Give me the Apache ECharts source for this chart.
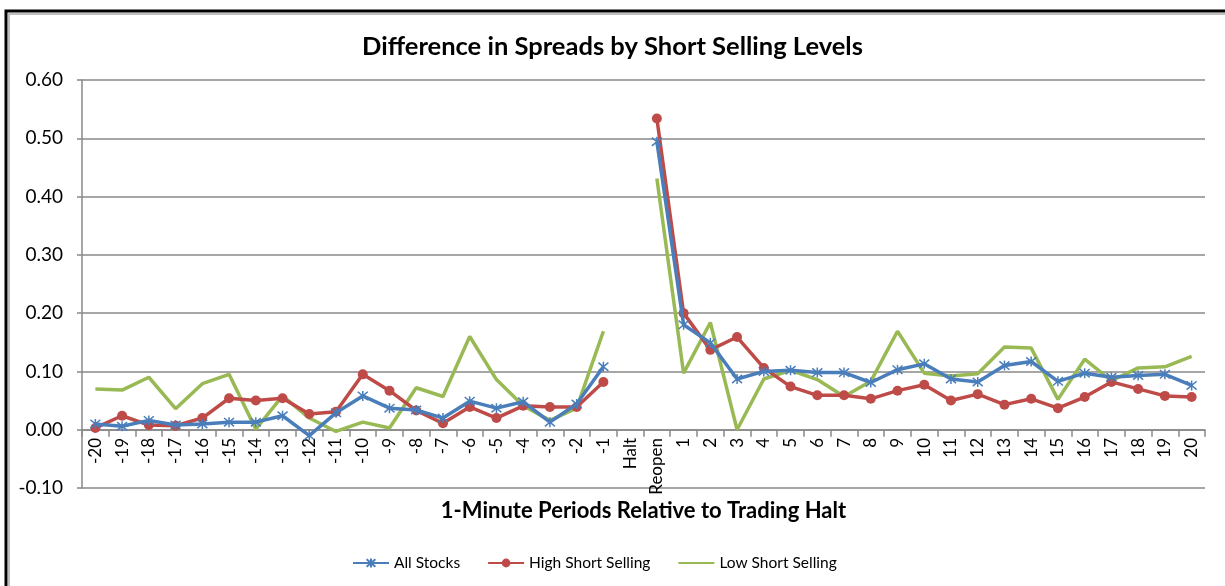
<!DOCTYPE html>
<html>
<head>
<meta charset="utf-8">
<script src="https://cdn.jsdelivr.net/npm/echarts@6/dist/echarts.min.js"></script>
<style>
  html, body { margin: 0; padding: 0; background: #fff; }
  #chart { width: 1225px; height: 586px; }
</style>
</head>
<body>
<div id="chart"></div>
<script>
// categories: minutes before halt, halt, reopen, minutes after
const periods = ['-20', '-19', '-18', '-17', '-16', '-15', '-14', '-13', '-12', '-11',
  '-10', '-9', '-8', '-7', '-6', '-5', '-4', '-3', '-2', '-1', 'Halt', 'Reopen',
  '1', '2', '3', '4', '5', '6', '7', '8', '9', '10',
  '11', '12', '13', '14', '15', '16', '17', '18', '19', '20'];

const allStocks = [0.010, 0.006, 0.016, 0.008, 0.010, 0.013, 0.013, 0.024, -0.010, 0.029,
  0.058, 0.037, 0.034, 0.020, 0.049, 0.037, 0.048, 0.013, 0.044, 0.108, null, 0.494,
  0.180, 0.149, 0.087, 0.100, 0.102, 0.098, 0.098, 0.081, 0.103, 0.113,
  0.087, 0.082, 0.110, 0.117, 0.083, 0.097, 0.090, 0.093, 0.095, 0.076];

const highShort = [0.003, 0.024, 0.008, 0.007, 0.020, 0.054, 0.050, 0.054, 0.027, 0.031,
  0.095, 0.067, 0.033, 0.011, 0.039, 0.020, 0.041, 0.039, 0.039, 0.082, null, 0.534,
  0.200, 0.137, 0.159, 0.106, 0.074, 0.059, 0.059, 0.053, 0.067, 0.077,
  0.050, 0.061, 0.043, 0.053, 0.037, 0.056, 0.082, 0.070, 0.058, 0.056];

const lowShort = [0.070, 0.068, 0.090, 0.036, 0.079, 0.095, 0.001, 0.058, 0.020, -0.003,
  0.013, 0.003, 0.072, 0.057, 0.160, 0.086, 0.041, 0.016, 0.037, 0.169, null, 0.431,
  0.097, 0.184, 0.000, 0.087, 0.102, 0.086, 0.057, 0.083, 0.169, 0.097,
  0.092, 0.096, 0.142, 0.140, 0.052, 0.121, 0.084, 0.106, 0.108, 0.126];

const FONT = 'Lato, "Liberation Sans", sans-serif';
const starPath = 'path://M0,0L10,10M10,0L0,10M5,-1L5,11';

const chart = echarts.init(document.getElementById('chart'));

chart.setOption({
  animation: false,
  backgroundColor: '#fff',
  textStyle: { fontFamily: FONT },
  title: {
    text: 'Difference in Spreads by Short Selling Levels',
    left: 'center',
    top: 29,
    textStyle: { fontFamily: FONT, fontSize: 25.5, fontWeight: 'bold', color: '#000' }
  },
  graphic: [
    { type: 'rect', shape: { x: 6, y: 11, width: 1400, height: 800 }, style: { fill: 'none', stroke: '#000', lineWidth: 3 } },
    { type: 'rect', shape: { x: 9, y: 14, width: 1400, height: 800 }, style: { fill: 'none', stroke: '#aaa', lineWidth: 1.5 } }
  ],
  legend: {
    bottom: 10,
    left: 347,
    itemWidth: 36,
    itemHeight: 11,
    itemGap: 27,
    textStyle: { fontFamily: FONT, fontSize: 15.5, color: '#000' },
    data: [
      'All Stocks',
      'High Short Selling',
      { name: 'Low Short Selling', itemStyle: { opacity: 0 } }
    ]
  },
  grid: [
    { left: 82, right: 20, top: 80, bottom: 98, outerBoundsMode: 'none', containLabel: false },
    // label-only grid whose bottom edge sits on the 0.00 line
    { left: 82, right: 20, top: 80, bottom: 156, outerBoundsMode: 'none', containLabel: false }
  ],
  xAxis: [
    {
      type: 'category',
      gridIndex: 0,
      data: periods,
      boundaryGap: true,
      name: '1-Minute Periods Relative to Trading Halt',
      nameLocation: 'middle',
      nameGap: 12,
      nameTextStyle: { fontFamily: FONT, fontSize: 22, fontWeight: 'bold', color: '#000' },
      axisLine: { onZero: true, lineStyle: { color: '#888', width: 1.5 } },
      axisTick: { show: true, interval: 0, length: 7, lineStyle: { color: '#888', width: 1.5 } },
      axisLabel: { show: false }
    },
    {
      type: 'category',
      gridIndex: 1,
      data: periods,
      boundaryGap: true,
      axisLine: { show: false },
      axisTick: { show: false },
      axisLabel: { interval: 0, rotate: 90, margin: 8, fontSize: 17, color: '#000', fontFamily: FONT }
    }
  ],
  yAxis: [
    {
      type: 'value',
      gridIndex: 0,
      min: -0.1,
      max: 0.6,
      interval: 0.1,
      axisLine: { show: true, lineStyle: { color: '#888', width: 1.5 } },
      axisTick: { show: true, length: 5, lineStyle: { color: '#888', width: 1.5 } },
      axisLabel: { formatter: v => v.toFixed(2), fontSize: 19, color: '#000', margin: 19, fontFamily: FONT },
      splitLine: { lineStyle: { color: '#888', width: 1.5 } }
    },
    { type: 'value', gridIndex: 1, show: false }
  ],
  series: [
    {
      name: 'All Stocks',
      type: 'line',
      data: allStocks,
      symbol: starPath,
      symbolSize: 10,
      lineStyle: { color: '#4A7EBB', width: 3.5 },
      itemStyle: { color: '#4A7EBB', borderColor: '#4A7EBB', borderWidth: 1.5 },
      z: 3
    },
    {
      name: 'High Short Selling',
      type: 'line',
      data: highShort,
      symbol: 'circle',
      symbolSize: 10,
      lineStyle: { color: '#BE4B48', width: 3.5 },
      itemStyle: { color: '#BE4B48' },
      z: 2
    },
    {
      name: 'Low Short Selling',
      type: 'line',
      data: lowShort,
      symbol: 'none',
      lineStyle: { color: '#98B954', width: 3.5 },
      itemStyle: { color: '#98B954' },
      z: 1
    }
  ]
});
</script>
</body>
</html>
